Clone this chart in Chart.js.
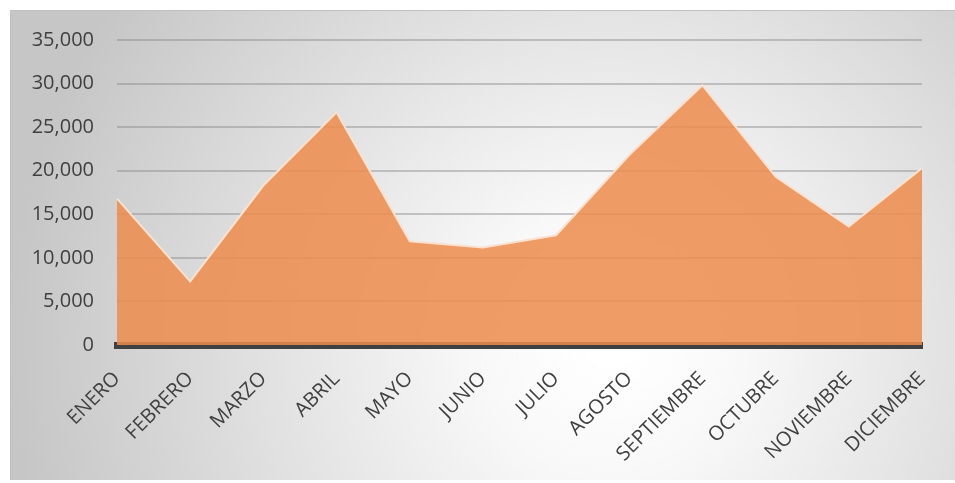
<!DOCTYPE html>
<html>
<head>
<meta charset="utf-8">
<script src="https://cdn.jsdelivr.net/npm/chart.js@4/dist/chart.umd.min.js"></script>
<style>
  html, body { margin: 0; padding: 0; background: #fff; }
  #wrap { width: 955px; height: 483px; position: relative; }
</style>
</head>
<body>
<div id="wrap"><canvas id="ventas"></canvas></div>
<script>
// monthly totals
const meses = ['ENERO', 'FEBRERO', 'MARZO', 'ABRIL', 'MAYO', 'JUNIO', 'JULIO', 'AGOSTO', 'SEPTIEMBRE', 'OCTUBRE', 'NOVIEMBRE', 'DICIEMBRE'];
const valores = [16800, 7300, 18300, 26700, 11900, 11200, 12600, 21800, 29800, 19300, 13600, 20300];
const yMax = 35000;
const yStep = 5000;

// grey radial backdrop behind the plot, like the office chart style
const fondo = {
    id: 'fondo',
    beforeDraw(chart) {
        const { ctx, width, height } = chart;
        ctx.save();
        ctx.fillStyle = '#ffffff';
        ctx.fillRect(0, 0, width, height);
        const g = ctx.createRadialGradient(610, 340, 20, 610, 340, 600);
        g.addColorStop(0, '#ffffff');
        g.addColorStop(0.2, '#f8f8f8');
        g.addColorStop(1, '#c6c6c6');
        ctx.fillStyle = g;
        ctx.fillRect(10, 10, width - 10, height - 13);
        ctx.strokeStyle = '#c0c0c0';
        ctx.lineWidth = 1;
        ctx.beginPath();
        ctx.moveTo(10.5, height - 3);
        ctx.lineTo(10.5, 10.5);
        ctx.lineTo(width, 10.5);
        ctx.stroke();
        ctx.restore();
    }
};

new Chart(document.getElementById('ventas'), {
    type: 'line',
    data: {
        labels: meses,
        datasets: [{
            data: valores,
            fill: 'origin',
            backgroundColor: 'rgba(236, 140, 78, 0.86)',
            borderColor: '#fbe1cf',
            borderWidth: 2,
            pointRadius: 0,
            tension: 0
        }]
    },
    options: {
        responsive: true,
        maintainAspectRatio: false,
        animation: false,
        layout: { padding: { top: 40, right: 33, left: 10, bottom: 0 } },
        plugins: {
            legend: { display: false },
            tooltip: { enabled: false }
        },
        scales: {
            x: {
                offset: false,
                grid: { display: false, drawTicks: false },
                // half of this sits under the area fill
                border: { color: '#404040', width: 7 },
                ticks: {
                    color: '#404040',
                    font: { family: 'Open Sans', size: 20 },
                    maxRotation: 45,
                    minRotation: 45,
                    autoSkip: false,
                    padding: 22
                },
                afterFit(s) {
                    s.height = 138;
                    s.paddingRight = 0;
                }
            },
            y: {
                min: 0,
                max: yMax,
                border: { display: false },
                grid: { color: 'rgba(130,130,130,0.42)', lineWidth: 2, drawTicks: false },
                ticks: {
                    stepSize: yStep,
                    color: '#404040',
                    font: { family: 'Open Sans', size: 20 },
                    padding: 23,
                    callback: v => v.toLocaleString('en-US')
                },
                afterFit(s) { s.width = 107; }
            }
        }
    },
    plugins: [fondo]
});
</script>
</body>
</html>
